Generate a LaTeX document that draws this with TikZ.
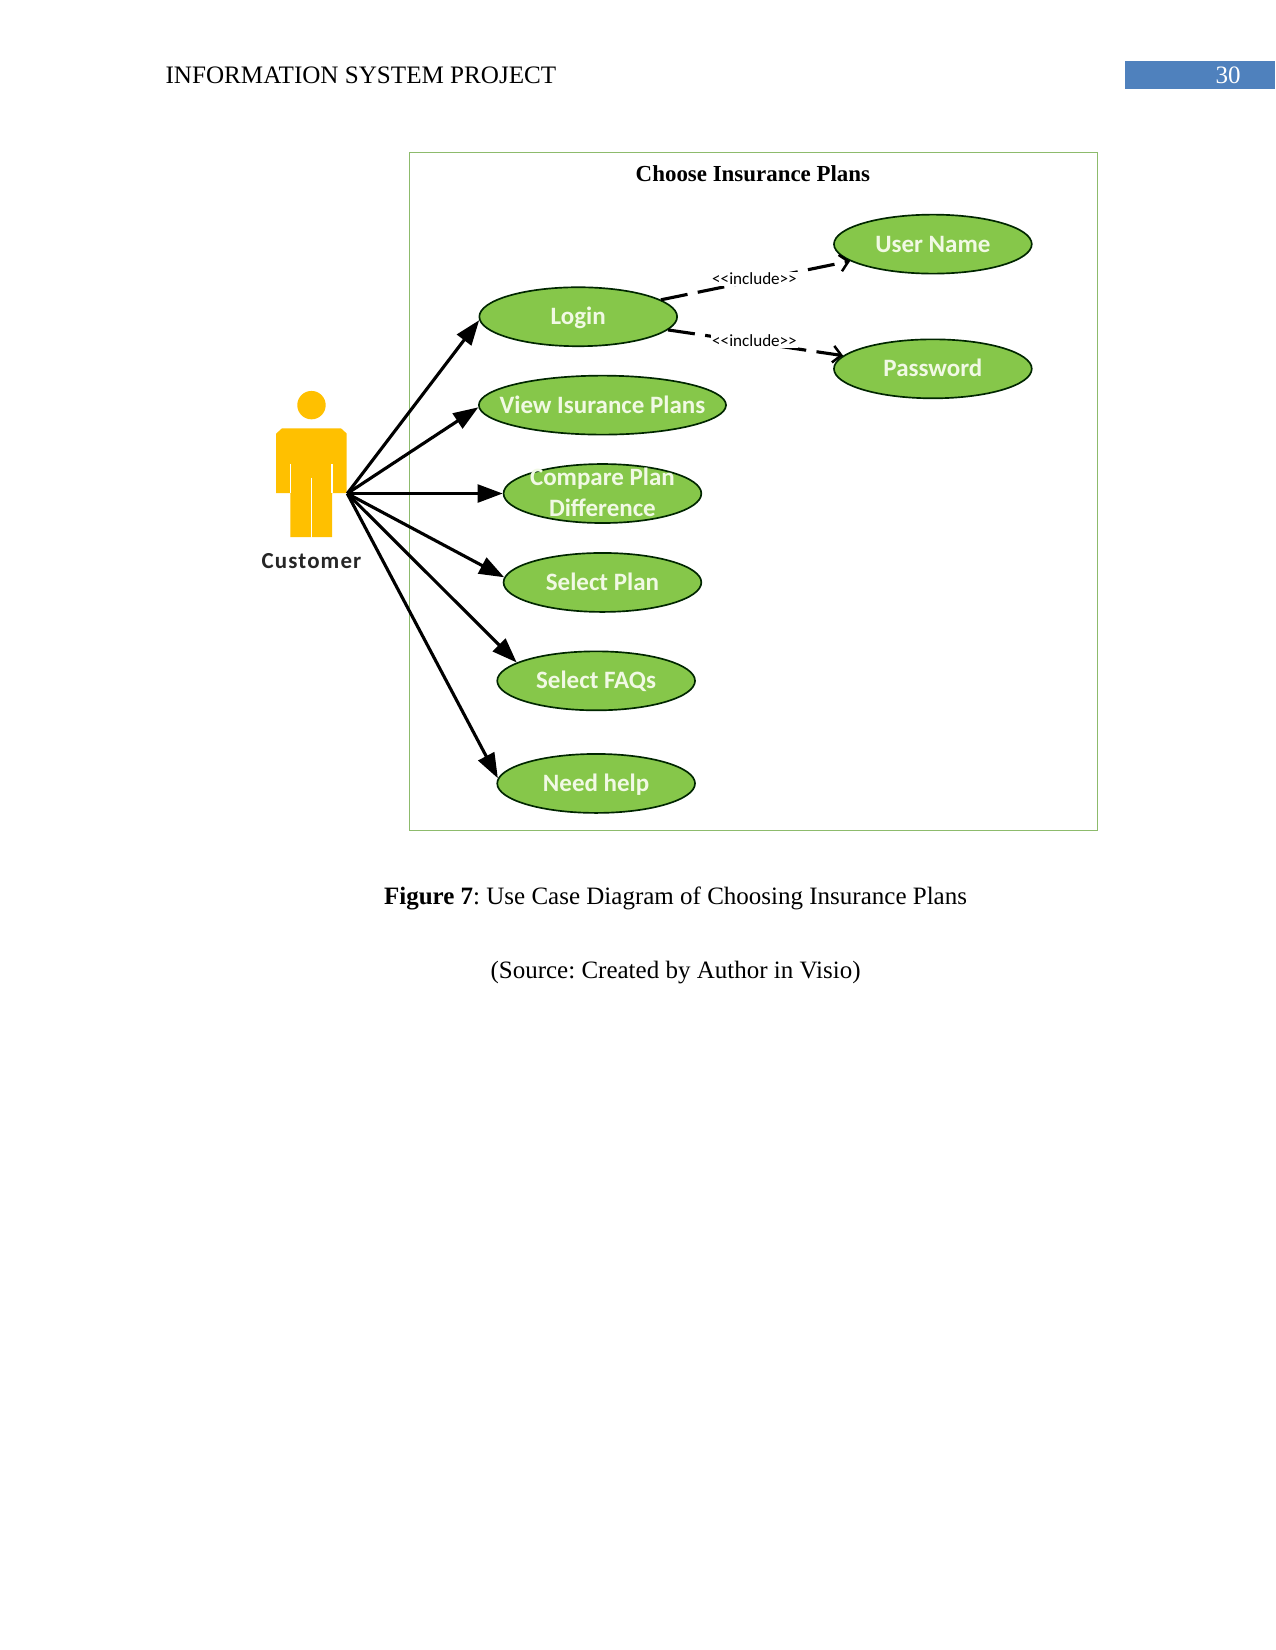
\documentclass[tikz,border=0pt]{standalone}
\usepackage{fontspec}
\setmainfont{Liberation Serif}
\newfontfamily\carl{Carlito}
\usetikzlibrary{shapes.geometric,arrows.meta}
\definecolor{ucgreen}{HTML}{86C74A}
\definecolor{uctext}{HTML}{F1F9E4}
\definecolor{framegreen}{HTML}{8DBB6C}
\definecolor{actorgold}{HTML}{FFC000}
\definecolor{barblue}{HTML}{4F81BD}
\newcommand{\uclabel}[1]{\makebox[0pt][c]{\smash{\raisebox{-0.32em}{#1}}}}
\frenchspacing
\tikzset{
  usecase/.style={ellipse,draw=black!85!green,line width=0.8pt,fill=ucgreen,inner sep=0pt,
    minimum width=94.9pt,minimum height=28.3pt,text=uctext,font=\carl\bfseries\fontsize{12}{14}\selectfont},
  usecasewide/.style={usecase,minimum width=118.6pt},
  assoc/.style={line width=1.5pt,-{Triangle[length=12pt,width=8.5pt]}},
  incl/.style={line width=1.5pt,dash pattern=on 13pt off 5pt,-{Straight Barb[length=4pt,width=8pt,line width=1.2pt]}},
  incllabel/.style={fill=white,inner sep=0.5pt,font=\carl\fontsize{8.2}{10}\selectfont},
  doctext/.style={font=\fontsize{12}{14}\selectfont,inner sep=0pt},
  gap/.style={draw=white,line width=0.5pt}
}
\begin{document}
\begin{tikzpicture}[x=0.50495pt,y=-0.50495pt]
\useasboundingbox[fill=white] (0,0) rectangle (1212,1568);
% header
\node[doctext,anchor=base west] (head) at (157,79) {\fontsize{12.05}{14}\selectfont INFORMATION SYSTEM PROJECT};
\fill[barblue] (1069,58) rectangle (1211.5,85);
\node[doctext,anchor=base,text=white] (page) at (1167,79) {30};
% frame
\draw[framegreen,line width=0.5pt] (389.5,144.5) rectangle (1042.5,789);
\node[font=\bfseries\fontsize{11}{13}\selectfont,inner sep=0pt] (title) at (715.5,165) {Choose Insurance Plans};
% actor
\fill[actorgold] (296,385) circle (13.5);
\fill[actorgold] (268,407) -- (324,407) -- (329.5,412) -- (329.5,468.5) -- (315.5,468.5) -- (315.5,510.5) -- (276,510.5) -- (276,468.5) -- (262.5,468.5) -- (262.5,412) -- cycle;
\draw[gap] (276,441) -- (276,468.5);
\draw[gap] (315.5,441) -- (315.5,468.5);
\draw[gap] (296,454) -- (296,511);
\node[font=\carl\bfseries\fontsize{11}{13}\selectfont,text=black!85,inner sep=0pt] (customer) at (296,533) {\addfontfeature{LetterSpace=5}Customer};
\coordinate (hub) at (330,469);
% use cases
\node[usecase] (login) at (549.5,301) {\uclabel{Login}};
\node[usecasewide] (view) at (572.5,385) {\uclabel{View Isurance Plans}};
\node[usecase] (compare) at (572.5,469) {\uclabel{\begin{tabular}{@{}c@{}}Compare Plan\\[0.6pt]Difference\end{tabular}}};
\node[usecase] (select) at (572.5,553.5) {\uclabel{Select Plan}};
\node[usecase] (faqs) at (566.5,647) {\uclabel{Select FAQs}};
\node[usecase] (help) at (566.5,744.5) {\uclabel{Need help}};
\node[usecase] (user) at (886.5,232) {\uclabel{User Name}};
\node[usecase] (pass) at (886.5,350.5) {\uclabel{Password}};
% associations
\draw[assoc] (hub) -- (login.182.4);
\draw[assoc] (hub) -- (view.181);
\draw[assoc] (hub) -- (compare.180);
\draw[assoc] (hub) -- (select.177);
\draw[assoc] (hub) -- (faqs.167);
\draw[assoc] (hub) -- (help.177.5);
% includes
\draw[incl] (login) -- (user);
\draw[incl] (login) -- (pass);
\node[incllabel] (inc1) at (717,265) {<{}<include>{}>};
\node[incllabel] (inc2) at (717,324) {<{}<include>{}>};
% caption
\node[doctext,anchor=base] (cap) at (642,859.5) {\textbf{Figure 7}: Use Case Diagram of Choosing Insurance Plans};
\node[doctext,anchor=base] (src) at (642,929.5) {(Source: Created by Author in Visio)};
\end{tikzpicture}
\end{document}
